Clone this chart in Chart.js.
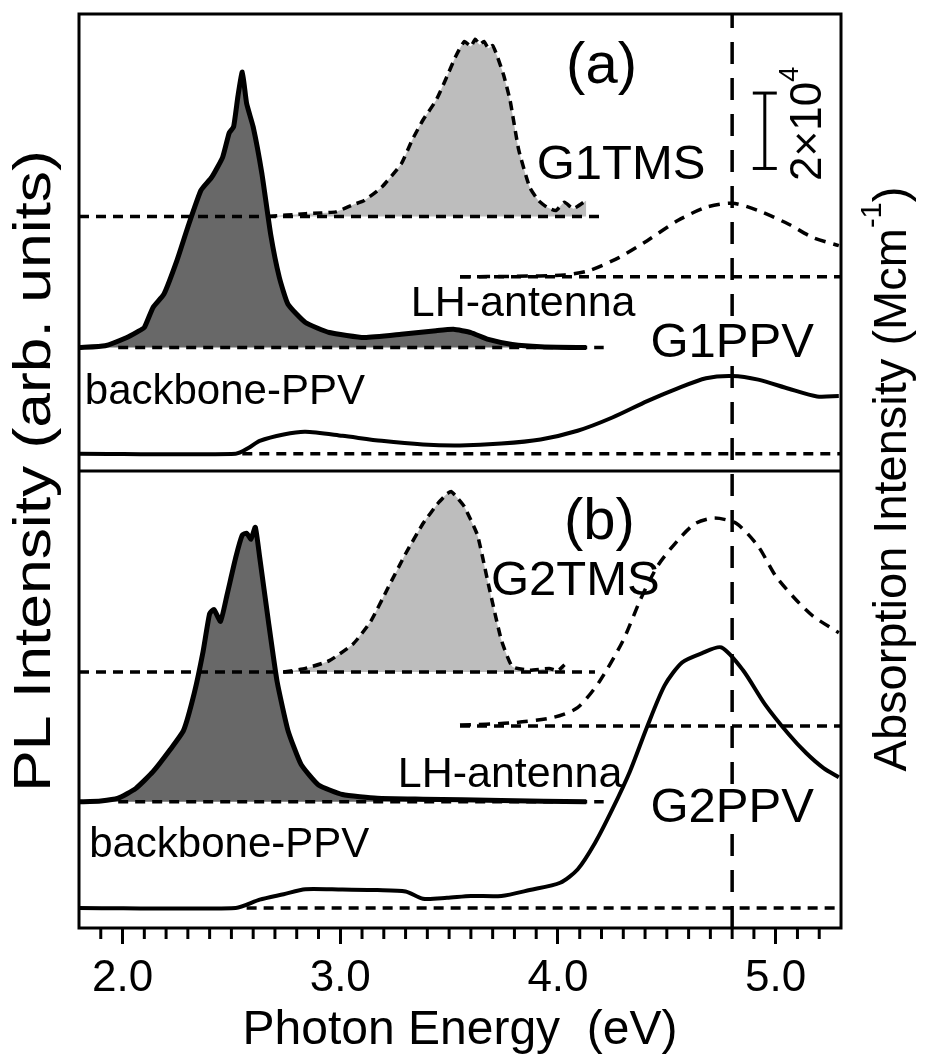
<!DOCTYPE html>
<html>
<head>
<meta charset="utf-8">
<script src="https://cdn.jsdelivr.net/npm/chart.js@4.4.1/dist/chart.umd.min.js"></script>
<style>
    html, body { margin: 0; padding: 0; background: #fff; }
</style>
</head>
<body>
<canvas id="grafiek" width="925" height="1063"></canvas>
<script>
// ---- DATA ----
// x-as: fotonenergie in eV
const xMin = 1.8;
const xMax = 5.3;
const majorTicks = [2.0, 3.0, 4.0, 5.0];
const markerEnergy = 4.8;

// elk paneel loopt van 0 tot 100 (willekeurige eenheden), paneel (a) ligt boven paneel (b)
const panelA = 100;
const panelB = 0;

// ---- paneel (a): G1 ----
// PL van G1TMS (gestreept, lichtgrijs gevuld), t.o.v. eigen basislijn
const g1TmsPlE = [2.67, 2.84, 2.98, 3.05, 3.11, 3.19, 3.28, 3.33, 3.38, 3.44, 3.49, 3.53, 3.57, 3.60, 3.62, 3.64, 3.66, 3.68, 3.70, 3.72, 3.75, 3.78, 3.82, 3.87, 3.91, 3.95, 3.99, 4.03, 4.07, 4.13];
const g1TmsPlV = [0, 0.6, 1.0, 2.4, 3.5, 6.4, 11.5, 16.7, 21.1, 25.4, 30.6, 35.0, 38.3, 37.2, 38.8, 37.6, 38.3, 36.8, 37.4, 35.2, 31.0, 25.4, 14.5, 6.4, 3.5, 2.0, 1.3, 3.1, 1.7, 3.5];
// PL van G1PPV (backbone + LH-antenna), donkergrijs gevuld
const g1PpvPlE = [1.80, 1.92, 2.02, 2.07, 2.10, 2.14, 2.19, 2.25, 2.30, 2.36, 2.41, 2.46, 2.49, 2.51, 2.53, 2.55, 2.57, 2.60, 2.64, 2.68, 2.72, 2.76, 2.84, 2.95, 3.11, 3.28, 3.44, 3.52, 3.60, 3.68, 3.79, 3.92, 4.13];
const g1PpvPlV = [0, 0.4, 2.2, 3.5, 4.4, 8.8, 11.7, 19.1, 26.4, 34.4, 37.3, 41.7, 47.0, 48.3, 55.0, 60.3, 53.4, 48.3, 38.1, 24.9, 15.4, 9.5, 5.5, 3.3, 2.2, 2.9, 3.7, 4.0, 3.3, 1.8, 0.7, 0.2, 0];
// absorptie G1TMS (gestreept)
const g1TmsAbsE = [3.55, 3.80, 4.03, 4.14, 4.28, 4.41, 4.55, 4.68, 4.80, 4.92, 5.06, 5.17, 5.29];
const g1TmsAbsV = [0, 0.1, 0.4, 1.3, 4.2, 7.9, 12.3, 15.2, 16.1, 14.5, 11.5, 8.6, 6.8];
// absorptie G1PPV (doorgetrokken)
const g1PpvAbsE = [1.80, 2.52, 2.58, 2.63, 2.74, 2.84, 3.01, 3.19, 3.38, 3.55, 3.74, 3.92, 4.09, 4.25, 4.41, 4.55, 4.68, 4.80, 4.92, 5.06, 5.19, 5.29];
const g1PpvAbsV = [0, 0, 1.3, 2.8, 4.2, 4.8, 3.9, 2.8, 2.0, 1.8, 2.2, 3.1, 5.0, 7.9, 11.5, 14.3, 16.5, 17.0, 16.2, 14.2, 12.5, 12.6];
// basislijnen paneel (a): niveau, begin, einde
const g1TmsPlBase = [55.7, 1.80, 4.20];
const g1PpvPlBase = [27.0, 1.98, 4.21];
const g1TmsAbsBase = [42.5, 3.55, 5.30];
const g1PpvAbsBase = [3.8, 2.55, 5.30];

// ---- paneel (b): G2 ----
const g2TmsPlE = [2.74, 2.84, 2.95, 3.06, 3.14, 3.22, 3.30, 3.38, 3.45, 3.49, 3.51, 3.54, 3.57, 3.63, 3.68, 3.74, 3.79, 3.87, 3.96, 4.00, 4.03];
const g2TmsPlV = [0, 0.8, 2.5, 6.2, 11.1, 18.5, 25.9, 32.5, 37.0, 39.0, 39.5, 38.0, 36.2, 30.0, 19.3, 7.0, 1.2, 0.4, 0.8, 0.3, 1.6];
const g2PpvPlE = [1.80, 1.90, 1.98, 2.06, 2.14, 2.22, 2.28, 2.33, 2.37, 2.40, 2.42, 2.45, 2.48, 2.52, 2.55, 2.57, 2.59, 2.61, 2.63, 2.67, 2.71, 2.76, 2.82, 2.90, 3.01, 3.17, 3.38, 3.74, 4.13];
const g2PpvPlV = [0, 0.2, 0.8, 2.9, 6.6, 11.5, 15.6, 23.9, 32.9, 41.2, 42.1, 39.5, 45.3, 53.5, 58.4, 58.8, 57.5, 60.1, 53.5, 39.5, 26.3, 15.6, 8.2, 3.7, 1.6, 0.8, 0.6, 0.3, 0];
const g2TmsAbsE = [3.55, 3.79, 3.98, 4.09, 4.19, 4.30, 4.38, 4.46, 4.55, 4.63, 4.72, 4.82, 4.92, 5.00, 5.09, 5.17, 5.29];
const g2TmsAbsV = [0.2, 0.7, 1.9, 4.0, 9.7, 18.8, 27.8, 35.2, 40.6, 44.3, 45.5, 44.3, 39.3, 32.8, 27.8, 24.1, 20.4];
const g2PpvAbsE = [1.80, 2.52, 2.63, 2.74, 2.84, 3.01, 3.17, 3.30, 3.38, 3.49, 3.60, 3.74, 3.87, 4.01, 4.09, 4.17, 4.25, 4.33, 4.41, 4.49, 4.57, 4.66, 4.75, 4.85, 4.95, 5.06, 5.14, 5.22, 5.29];
const g2PpvAbsV = [0, 0, 1.8, 3.0, 4.1, 4.0, 3.9, 3.6, 2.0, 2.2, 2.6, 2.6, 3.9, 5.5, 8.4, 14.2, 21.6, 29.8, 39.7, 48.7, 53.7, 55.7, 57.0, 52.0, 44.6, 38.0, 33.9, 30.6, 28.6];
const g2TmsPlBase = [56.0, 1.80, 4.17];
const g2PpvPlBase = [27.6, 1.98, 4.21];
const g2TmsAbsBase = [44.2, 3.55, 5.30];
const g2PpvAbsBase = [4.4, 2.57, 5.30];

// schaalbalk 2x10^4 (paneel a): energie, van, tot
const scaleBar = [4.95, 66.2, 82.7];

// ---- STIJL ----
const fontFam = '"Liberation Sans", Arial, Helvetica, sans-serif';
const donker = "#686868";
const licht = "#bdbdbd";

function punten(E, V, base, paneel) {
    return E.map((e, i) => ({ x: e, y: paneel + base + V[i] }));
}
function basislijn(b, paneel) {
    return [{ x: b[1], y: paneel + b[0] }, { x: b[2], y: paneel + b[0] }];
}
function streep(b, paneel) {
    return { data: basislijn(b, paneel), borderColor: "#000", borderWidth: 3.5, borderDash: [10, 7], pointRadius: 0, fill: false };
}
function curve(E, V, b, paneel, opts) {
    return Object.assign({
        data: punten(E, V, b[0], paneel),
        borderColor: "#000",
        borderWidth: 3.5,
        pointRadius: 0,
        tension: 0.25,
        fill: false
    }, opts);
}

const datasets = [
    // verticale stippellijn
    { data: [{ x: markerEnergy, y: 0 }, { x: markerEnergy, y: 200 }], borderColor: "#000", borderWidth: 3.5, borderDash: [22, 14], pointRadius: 0, fill: false },
    // basislijnen
    streep(g1TmsPlBase, panelA), streep(g1PpvPlBase, panelA), streep(g1TmsAbsBase, panelA), streep(g1PpvAbsBase, panelA),
    streep(g2TmsPlBase, panelB), streep(g2PpvPlBase, panelB), streep(g2TmsAbsBase, panelB), streep(g2PpvAbsBase, panelB),
    // paneel (a)
    curve(g1TmsPlE, g1TmsPlV, g1TmsPlBase, panelA, { borderDash: [9, 6], backgroundColor: licht, fill: { value: panelA + g1TmsPlBase[0] }, tension: 0.15 }),
    curve(g1PpvPlE, g1PpvPlV, g1PpvPlBase, panelA, { borderWidth: 5, backgroundColor: donker, fill: { value: panelA + g1PpvPlBase[0] }, tension: 0.15 }),
    curve(g1TmsAbsE, g1TmsAbsV, g1TmsAbsBase, panelA, { borderDash: [11, 8] }),
    curve(g1PpvAbsE, g1PpvAbsV, g1PpvAbsBase, panelA, { borderWidth: 4 }),
    // paneel (b)
    curve(g2TmsPlE, g2TmsPlV, g2TmsPlBase, panelB, { borderDash: [9, 6], backgroundColor: licht, fill: { value: panelB + g2TmsPlBase[0] }, tension: 0.15 }),
    curve(g2PpvPlE, g2PpvPlV, g2PpvPlBase, panelB, { borderWidth: 5, backgroundColor: donker, fill: { value: panelB + g2PpvPlBase[0] }, tension: 0.15 }),
    curve(g2TmsAbsE, g2TmsAbsV, g2TmsAbsBase, panelB, { borderDash: [11, 8] }),
    curve(g2PpvAbsE, g2PpvAbsV, g2PpvAbsBase, panelB, { borderWidth: 4 })
];

// teksten in het plot (in data-eenheden); wit = witte achtergrond achter de tekst
const teksten = [
    { t: "(a)", x: 4.20, y: panelA + 88.4, s: 58 },
    { t: "G1TMS", x: 4.29, y: panelA + 66.9, s: 49 },
    { t: "LH-antenna", x: 3.84, y: panelA + 36.6, s: 43 },
    { t: "G1PPV", x: 4.80, y: panelA + 27.9, s: 49, wit: true },
    { t: "backbone-PPV", x: 2.47, y: panelA + 17.3, s: 42 },
    { t: "(b)", x: 4.19, y: panelB + 88.6, s: 58 },
    { t: "G2TMS", x: 4.08, y: panelB + 75.8, s: 49 },
    { t: "LH-antenna", x: 3.78, y: panelB + 33.4, s: 43 },
    { t: "G2PPV", x: 4.80, y: panelB + 26.2, s: 49, wit: true },
    { t: "backbone-PPV", x: 2.49, y: panelB + 18.0, s: 42 }
];

function lijn(ctx, x1, y1, x2, y2) {
    ctx.beginPath();
    ctx.moveTo(x1, y1);
    ctx.lineTo(x2, y2);
    ctx.stroke();
}

// tekst met exponent, gedraaid (-90 graden); rek = uitrekking langs de tekstrichting
function gedraaid(ctx, cx, cy, delen, size, rek) {
    ctx.save();
    ctx.translate(cx, cy);
    ctx.rotate(-Math.PI / 2);
    ctx.scale(rek || 1, 1);
    ctx.textBaseline = "middle";
    ctx.textAlign = "left";
    let totaal = 0;
    const maten = delen.map(d => {
        ctx.font = (d.sup ? size * 0.62 : size) + "px " + fontFam;
        const w = ctx.measureText(d.t).width;
        totaal += w;
        return w;
    });
    let pos = -totaal / 2;
    delen.forEach((d, i) => {
        ctx.font = (d.sup ? size * 0.62 : size) + "px " + fontFam;
        ctx.fillText(d.t, pos, d.sup ? -size * 0.42 : 0);
        pos += maten[i];
    });
    ctx.restore();
}

const kader = {
    id: "kader",
    afterDraw(chart) {
        const { ctx, chartArea: ca, scales } = chart;
        const x = scales.x, y = scales.y;
        ctx.save();
        ctx.strokeStyle = "#000";
        ctx.fillStyle = "#000";
        ctx.lineWidth = 3;
        ctx.lineCap = "butt";

        // teksten
        ctx.textAlign = "center";
        ctx.textBaseline = "middle";
        teksten.forEach(l => {
            ctx.font = l.s + "px " + fontFam;
            const px = x.getPixelForValue(l.x), py = y.getPixelForValue(l.y);
            if (l.wit) {
                const w = ctx.measureText(l.t).width;
                ctx.fillStyle = "#fff";
                ctx.fillRect(px - w / 2 - 2, py - l.s * 0.45, w + 4, l.s * 0.9);
                ctx.fillStyle = "#000";
            }
            ctx.fillText(l.t, px, py);
        });

        ctx.strokeRect(ca.left, ca.top, ca.right - ca.left, ca.bottom - ca.top);
        // scheiding tussen paneel (a) en (b)
        const ymid = y.getPixelForValue(panelA);
        lijn(ctx, ca.left, ymid, ca.right, ymid);
        // kleine streepjes om de 0.1 eV
        for (let i = Math.round(xMin * 10) + 1; i < Math.round(xMax * 10); i++) {
            if (i % 10 === 0) continue;
            const px = x.getPixelForValue(i / 10);
            lijn(ctx, px, ca.bottom, px, ca.bottom + 11);
        }
        // schaalbalk
        const bx = x.getPixelForValue(scaleBar[0]);
        const b1 = y.getPixelForValue(panelA + scaleBar[1]);
        const b2 = y.getPixelForValue(panelA + scaleBar[2]);
        lijn(ctx, bx, b1, bx, b2);
        lijn(ctx, bx - 12, b1, bx + 12, b1);
        lijn(ctx, bx - 12, b2, bx + 12, b2);
        gedraaid(ctx, bx + 44, (b1 + b2) / 2 - 7, [{ t: "2\u00d710" }, { t: "4", sup: true }], 44);

        // astitels links en rechts
        const cy = (ca.top + ca.bottom) / 2;
        gedraaid(ctx, ca.left - 43, cy, [{ t: "PL Intensity (arb. units)" }], 52, 1.2);
        gedraaid(ctx, ca.right + 52, cy + 8, [{ t: "Absorption Intensity (Mcm" }, { t: "-1", sup: true }, { t: ")" }], 47);
        ctx.restore();
    }
};

const ctx = document.getElementById("grafiek").getContext("2d");
const grafiek = new Chart(ctx, {
    type: "line",
    data: { datasets: datasets },
    options: {
        responsive: false,
        animation: false,
        devicePixelRatio: 1,
        layout: { padding: { left: 79, right: 84, top: 14, bottom: 0 } },
        plugins: {
            legend: { display: false },
            tooltip: { enabled: false }
        },
        scales: {
            x: {
                type: "linear",
                min: xMin,
                max: xMax,
                afterBuildTicks: axis => { axis.ticks = majorTicks.map(v => ({ value: v })); },
                afterFit: axis => { axis.height = 135; },
                border: { display: false },
                grid: { drawOnChartArea: false, drawTicks: true, tickLength: 16, tickWidth: 3, tickColor: "#000" },
                ticks: {
                    color: "#000",
                    font: { size: 44, family: fontFam },
                    padding: 8,
                    maxRotation: 0,
                    autoSkip: false,
                    callback: v => Number(v).toFixed(1)
                },
                title: {
                    display: true,
                    text: "Photon Energy  (eV)",
                    color: "#000",
                    font: { size: 48, family: fontFam },
                    padding: { top: 0, bottom: 3 }
                }
            },
            y: { type: "linear", min: 0, max: 200, display: false }
        }
    },
    plugins: [kader]
});
</script>
</body>
</html>
